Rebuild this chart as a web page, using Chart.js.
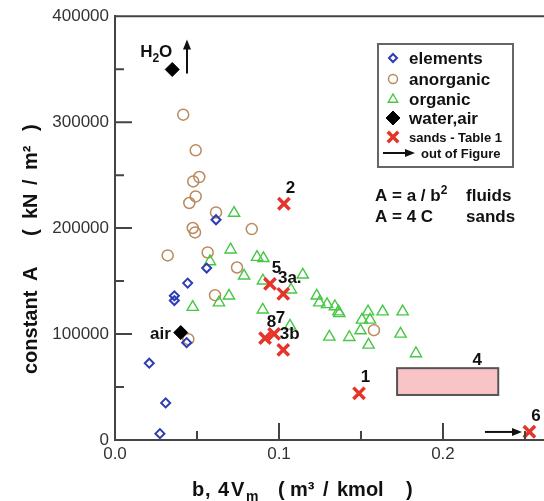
<!DOCTYPE html>
<html>
<head>
<meta charset="utf-8">
<script src="https://cdn.jsdelivr.net/npm/chart.js@4.4.1/dist/chart.umd.min.js"></script>
<style>
  html, body { margin: 0; padding: 0; background: #fff; }
  #wrap { width: 544px; height: 501px; position: relative; }
</style>
</head>
<body>
<div id="wrap"><canvas id="chart"></canvas></div>
<script>
// values: b in m3/kmol, A in kN/m2
const elementsB = [0.0616, 0.0559, 0.0443, 0.0362, 0.0362, 0.0437, 0.0209, 0.0309, 0.0274];
const elementsA = [207900, 162300, 148100, 136100, 131600, 91900, 72500, 35000, 6000];

const anorganicB = [0.0416, 0.0492, 0.0514, 0.0477, 0.0492, 0.0453, 0.0616, 0.0474, 0.0488,
                    0.0834, 0.0321, 0.0565, 0.0744, 0.0610, 0.0447, 0.1579];
const anorganicA = [307100, 273400, 248200, 244100, 229900, 223700, 214800, 200100, 195900,
                    199100, 174200, 177000, 162800, 136700, 95200, 103700];

const organicB = [0.0726, 0.0705, 0.0579, 0.0866, 0.0905, 0.0787, 0.0695, 0.0634, 0.0474,
                  0.0902, 0.0901, 0.1067, 0.1073, 0.1145, 0.1230, 0.1246, 0.1293, 0.1341,
                  0.1362, 0.1368, 0.1543, 0.1632, 0.1754, 0.1506, 0.1555, 0.1497, 0.1307,
                  0.1429, 0.1741, 0.1546, 0.1835];
const organicA = [214200, 179600, 168500, 172600, 171500, 155000, 136100, 129700, 125400,
                  150300, 122900, 107700, 141800, 155900, 136100, 129700, 128000, 126000,
                  121200, 119500, 121200, 121200, 121200, 113400, 113400, 103300, 97300,
                  97000, 100200, 89800, 81700];

const waterAirB = [0.0349, 0.0401];
const waterAirA = [349700, 101400];
const waterAirNames = ['H2O', 'air'];

const sandB = [0.1488, 0.1030, 0.1026, 0.1026, 0.0945, 0.2527, 0.0970, 0.0915];
const sandA = [44100, 223000, 138000, 85000, 147400, 7800, 100200, 96100];
const sandNames = ['1', '2', '3a.', '3b', '5', '6', '7', '8'];

// sand 4 is a range, drawn as a box
const sand4B = [0.172, 0.2337];
const sand4A = [42500, 67800];

// "out of Figure" arrows: [b1, A1, b2, A2]
const arrows = [
  [0.0439, 345900, 0.0439, 378000],
  [0.2256, 7600, 0.2482, 7600]
];

const xTicks = [0, 0.1, 0.2];
const xMinor = [0.05, 0.15, 0.25];
const yTicks = [0, 100000, 200000, 300000, 400000];
const yMinor = [50000, 150000, 250000, 350000];

const FONT = '"Liberation Sans", Arial, sans-serif';
const AXIS = '#444';

const pts = (b, a) => b.map((v, i) => ({ x: v, y: a[i] }));

function drawParts(ctx, parts, x, y, align) {
  let total = 0;
  parts.forEach(p => { ctx.font = p.font; p.w = ctx.measureText(p.text).width; total += p.w; });
  let cx = align === 'center' ? x - total / 2 : align === 'right' ? x - total : x;
  ctx.textAlign = 'left';
  ctx.textBaseline = 'alphabetic';
  parts.forEach(p => { ctx.font = p.font; ctx.fillText(p.text, cx, y + (p.dy || 0)); cx += p.w; });
}

// pieces placed at fixed offsets along a line (for the spaced-out axis titles)
function drawPlaced(ctx, pieces, x0, y0) {
  ctx.textAlign = 'left';
  ctx.textBaseline = 'alphabetic';
  pieces.forEach(p => { ctx.font = p.font; ctx.fillText(p.text, x0 + p.at, y0 + (p.dy || 0)); });
}

function drawArrow(ctx, x1, y1, x2, y2) {
  const a = Math.atan2(y2 - y1, x2 - x1), h = 10, w = 4;
  ctx.beginPath();
  ctx.moveTo(x1, y1);
  ctx.lineTo(x2 - h * 0.8 * Math.cos(a), y2 - h * 0.8 * Math.sin(a));
  ctx.stroke();
  ctx.beginPath();
  ctx.moveTo(x2, y2);
  ctx.lineTo(x2 - h * Math.cos(a) + w * Math.sin(a), y2 - h * Math.sin(a) - w * Math.cos(a));
  ctx.lineTo(x2 - h * Math.cos(a) - w * Math.sin(a), y2 - h * Math.sin(a) + w * Math.cos(a));
  ctx.closePath();
  ctx.fill();
}

function drawMarker(ctx, ds, x, y, r) {
  ctx.save();
  ctx.strokeStyle = ds.borderColor;
  ctx.fillStyle = ds.backgroundColor;
  ctx.lineWidth = ds.borderWidth;
  ctx.beginPath();
  if (ds.pointStyle === 'circle') {
    ctx.arc(x, y, r, 0, Math.PI * 2);
  } else if (ds.pointStyle === 'rectRot') {
    ctx.moveTo(x, y - r); ctx.lineTo(x + r, y); ctx.lineTo(x, y + r); ctx.lineTo(x - r, y); ctx.closePath();
  } else if (ds.pointStyle === 'triangle') {
    ctx.moveTo(x, y - r); ctx.lineTo(x + r * 0.95, y + r * 0.65); ctx.lineTo(x - r * 0.95, y + r * 0.65); ctx.closePath();
  } else if (ds.pointStyle === 'crossRot') {
    ctx.moveTo(x - r * 0.7, y - r * 0.7); ctx.lineTo(x + r * 0.7, y + r * 0.7);
    ctx.moveTo(x + r * 0.7, y - r * 0.7); ctx.lineTo(x - r * 0.7, y + r * 0.7);
  }
  ctx.fill();
  ctx.stroke();
  ctx.restore();
}

// box for sand 4, under the markers
const boxPlugin = {
  id: 'box',
  beforeDatasetsDraw(chart) {
    const { ctx, scales: { x, y } } = chart;
    const x1 = x.getPixelForValue(sand4B[0]), x2 = x.getPixelForValue(sand4B[1]);
    const y1 = y.getPixelForValue(sand4A[1]), y2 = y.getPixelForValue(sand4A[0]);
    ctx.save();
    ctx.fillStyle = '#f8c4c6';
    ctx.fillRect(x1, y1, x2 - x1, y2 - y1);
    ctx.strokeStyle = '#555';
    ctx.lineWidth = 2;
    ctx.strokeRect(x1, y1, x2 - x1, y2 - y1);
    ctx.restore();
  }
};

const decorPlugin = {
  id: 'decor',
  afterDraw(chart) {
    const { ctx, chartArea: ca, scales: { x, y } } = chart;
    ctx.save();
    // top frame line
    ctx.strokeStyle = AXIS;
    ctx.lineWidth = 2;
    ctx.beginPath(); ctx.moveTo(ca.left, ca.top); ctx.lineTo(ca.right, ca.top); ctx.stroke();

    // inside ticks
    ctx.lineWidth = 2;
    ctx.beginPath();
    yTicks.slice(1, -1).forEach(v => { const p = y.getPixelForValue(v); ctx.moveTo(ca.left, p); ctx.lineTo(ca.left + 17, p); });
    yMinor.forEach(v => { const p = y.getPixelForValue(v); ctx.moveTo(ca.left, p); ctx.lineTo(ca.left + 9, p); });
    xTicks.slice(1).forEach(v => { const p = x.getPixelForValue(v); ctx.moveTo(p, ca.bottom); ctx.lineTo(p, ca.bottom - 17); });
    xMinor.forEach(v => { const p = x.getPixelForValue(v); ctx.moveTo(p, ca.bottom); ctx.lineTo(p, ca.bottom - 9); });
    ctx.stroke();

    // arrows
    ctx.strokeStyle = '#111';
    ctx.fillStyle = '#111';
    ctx.lineWidth = 2;
    arrows.forEach(a => drawArrow(ctx, x.getPixelForValue(a[0]), y.getPixelForValue(a[1]),
                                       x.getPixelForValue(a[2]), y.getPixelForValue(a[3])));

    // point labels
    ctx.fillStyle = '#111';
    const bold = '700 17px ' + FONT, boldSm = '700 12px ' + FONT;
    sandB.forEach((v, i) => {
      drawParts(ctx, [{ text: sandNames[i], font: bold }], x.getPixelForValue(v) + 6.5, y.getPixelForValue(sandA[i]) - 11, 'center');
    });
    drawParts(ctx, [{ text: '4', font: bold }], x.getPixelForValue(sand4B[1]) - 21, y.getPixelForValue(sand4A[1]) - 3, 'center');
    // H2O and air
    const hx = x.getPixelForValue(waterAirB[0]), hy = y.getPixelForValue(waterAirA[0]);
    drawParts(ctx, [{ text: 'H', font: bold }, { text: '2', font: boldSm, dy: 5 }, { text: 'O', font: bold }], hx - 16, hy - 12, 'center');
    drawParts(ctx, [{ text: waterAirNames[1], font: bold }], x.getPixelForValue(waterAirB[1]) - 10, y.getPixelForValue(waterAirA[1]) + 6, 'right');

    // formula note
    const f = '700 17px ' + FONT;
    drawParts(ctx, [{ text: 'A = a / b', font: f }, { text: '2', font: '700 12px ' + FONT, dy: -7 }], 375, 201, 'left');
    drawParts(ctx, [{ text: 'fluids', font: f }], 466, 201, 'left');
    drawParts(ctx, [{ text: 'A = 4 C', font: f }], 375, 222, 'left');
    drawParts(ctx, [{ text: 'sands', font: f }], 466, 222, 'left');

    // legend
    const lx = 378, ly = 44, lw = 135, lh = 123;
    ctx.fillStyle = '#fff';
    ctx.fillRect(lx, ly, lw, lh);
    ctx.strokeStyle = '#666';
    ctx.lineWidth = 2;
    ctx.strokeRect(lx, ly, lw, lh);
    const rowY = [58, 79, 99, 118, 137, 153];
    const rad = [4, 4.5, 5, 7, 7.5];
    chart.data.datasets.forEach((ds, i) => {
      drawMarker(ctx, ds, 393, rowY[i], rad[i]);
      ctx.fillStyle = '#111';
      drawParts(ctx, [{ text: ds.label, font: i < 4 ? '700 17px ' + FONT : '700 13px ' + FONT }], 409, rowY[i] + (i < 4 ? 6 : 5), 'left');
    });
    ctx.strokeStyle = '#111';
    ctx.fillStyle = '#111';
    drawArrow(ctx, 383, rowY[5], 415, rowY[5]);
    drawParts(ctx, [{ text: 'out of Figure', font: '700 13px ' + FONT }], 421, rowY[5] + 5, 'left');

    // axis titles
    const tf = '700 20px ' + FONT, tfs = '700 14px ' + FONT;
    drawPlaced(ctx, [
      { text: 'b', font: tf, at: 0 }, { text: ',', font: tf, at: 13 }, { text: '4', font: tf, at: 26 },
      { text: 'V', font: tf, at: 39 }, { text: 'm', font: tfs, at: 54, dy: 5 },
      { text: '(', font: tf, at: 86 }, { text: 'm\u00b3', font: tf, at: 98 },
      { text: '/', font: tf, at: 131 }, { text: 'kmol', font: tf, at: 145 }, { text: ')', font: tf, at: 214 }
    ], 192, 496);
    ctx.translate(37, 373);
    ctx.rotate(-Math.PI / 2);
    drawPlaced(ctx, [
      { text: 'constant', font: tf, at: -1 }, { text: 'A', font: tf, at: 92 }, { text: '(', font: tf, at: 137 },
      { text: 'kN', font: tf, at: 154 }, { text: '/', font: tf, at: 188 }, { text: 'm\u00b2', font: tf, at: 203 },
      { text: ')', font: tf, at: 242 }
    ], 0, 0);
    ctx.restore();
  }
};

new Chart(document.getElementById('chart'), {
  type: 'scatter',
  data: {
    datasets: [
      { label: 'elements', data: pts(elementsB, elementsA), pointStyle: 'rectRot', pointRadius: 4.5,
        borderColor: '#2b3cb4', backgroundColor: 'rgba(0,0,0,0)', borderWidth: 2, order: 2 },
      { label: 'anorganic', data: pts(anorganicB, anorganicA), pointStyle: 'circle', pointRadius: 5.5,
        borderColor: '#b98a5e', backgroundColor: 'rgba(0,0,0,0)', borderWidth: 1.5, order: 4 },
      { label: 'organic', data: pts(organicB, organicA), pointStyle: 'triangle', pointRadius: 6.5,
        borderColor: '#46c846', backgroundColor: 'rgba(0,0,0,0)', borderWidth: 1.4, order: 3 },
      { label: 'water,air', data: pts(waterAirB, waterAirA), pointStyle: 'rectRot', pointRadius: 7,
        borderColor: '#000', backgroundColor: '#000', borderWidth: 1, order: 1 },
      { label: 'sands - Table 1', data: pts(sandB, sandA), pointStyle: 'crossRot', pointRadius: 8,
        borderColor: '#e6342a', backgroundColor: '#e6342a', borderWidth: 3.5, order: 0 }
    ]
  },
  options: {
    responsive: true,
    maintainAspectRatio: false,
    animation: false,
    events: [],
    layout: { autoPadding: false, padding: { top: 16, right: 0, left: 0, bottom: 0 } },
    plugins: { legend: { display: false }, tooltip: { enabled: false } },
    scales: {
      x: {
        type: 'linear', min: 0, max: 0.2616,
        afterBuildTicks: s => { s.ticks = xTicks.map(v => ({ value: v })); },
        afterFit: s => { s.height = 61; },
        grid: { display: false, drawTicks: false },
        border: { display: true, color: AXIS, width: 2 },
        ticks: { color: '#333', padding: 4, font: { family: FONT, size: 17 }, callback: v => v.toFixed(1) }
      },
      y: {
        type: 'linear', min: 0, max: 400000,
        afterBuildTicks: s => { s.ticks = yTicks.map(v => ({ value: v })); },
        afterFit: s => { s.width = 115; },
        grid: { display: false, drawTicks: false },
        border: { display: true, color: AXIS, width: 2 },
        ticks: { color: '#333', padding: 6, font: { family: FONT, size: 17 }, callback: v => String(v) }
      }
    }
  },
  plugins: [boxPlugin, decorPlugin]
});
</script>
</body>
</html>
